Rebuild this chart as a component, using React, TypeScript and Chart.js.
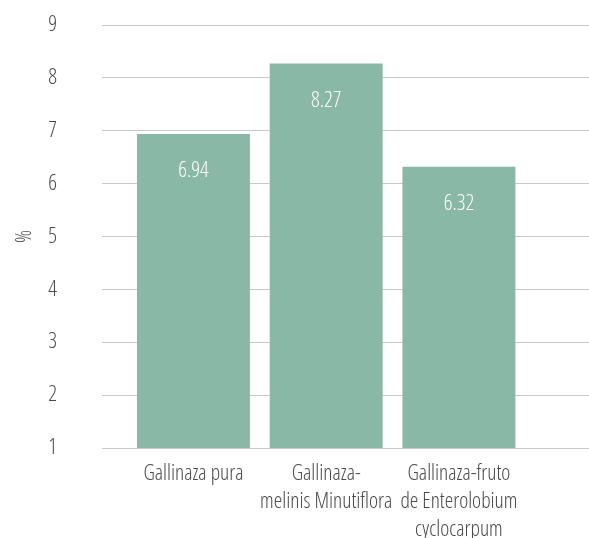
import React, { useEffect, useRef } from "react";
import { Chart, registerables } from "chart.js";

Chart.register(...registerables);

const categories: string[][] = [
  ["Gallinaza pura"],
  ["Gallinaza-", "melinis Minutiflora"],
  ["Gallinaza-fruto", "de Enterolobium", "cyclocarpum"],
];
const values: number[] = [6.94, 8.27, 6.32];
const valueLabels: string[] = ["6.94", "8.27", "6.32"];
const yTicks: number[] = [1, 2, 3, 4, 5, 6, 7, 8, 9];

const FAMILY = "'Open Sans', sans-serif";
const WEIGHT = "300 condensed";
const SIZE = 21.5;
const BAR = "rgb(137,184,167)";
const TEXT = "#4a4a4a";

const labelPlugin = {
  id: "valueLabels",
  afterDatasetsDraw(chart: any) {
    const ctx = chart.ctx;
    const meta = chart.getDatasetMeta(0);
    ctx.save();
    ctx.font = `${WEIGHT} ${SIZE}px ${FAMILY}`;
    ctx.fillStyle = "#ffffff";
    ctx.textAlign = "center";
    ctx.textBaseline = "middle";
    meta.data.forEach((bar: any, i: number) => {
      ctx.fillText(valueLabels[i], bar.x, bar.y + 37);
    });
    ctx.restore();
  },
};

export default function App() {
  const ref = useRef<HTMLCanvasElement>(null);
  useEffect(() => {
    document.body.style.margin = "0";
    const font = { family: FAMILY, size: SIZE, weight: WEIGHT as any };
    const chart = new Chart(ref.current!, {
      type: "bar",
      data: {
        datasets: [
          {
            data: values.map((v, i) => ({ x: i + 1, y: v })) as any,
            backgroundColor: BAR,
            borderWidth: 0,
            barPercentage: 1,
            categoryPercentage: 0.851,
          },
        ],
      },
      options: {
        animation: false,
        responsive: false,
        maintainAspectRatio: false,
        layout: { padding: { top: 25, right: 0, left: 0, bottom: 0 } },
        plugins: { legend: { display: false }, tooltip: { enabled: false } },
        scales: {
          x: {
            type: "linear",
            offset: false,
            min: 0.311,
            max: 3.98,
            grid: { display: false, drawTicks: false },
            border: { display: false },
            afterFit: (s: any) => {
              s.height = 90;
              s.paddingLeft = 0;
              s.paddingRight = 0;
            },
            afterBuildTicks: (s: any) => {
              s.ticks = categories.map((_, i) => ({ value: i + 1 }));
            },
            ticks: {
              autoSkip: false,
              maxRotation: 0,
              padding: 12,
              color: TEXT,
              font: { ...font, lineHeight: 1.3 },
              callback: (v: any) => categories[Number(v) - 1] ?? "",
            },
          },
          y: {
            min: 1,
            max: 9,
            afterFit: (s: any) => {
              s.width = 102;
              s.paddingTop = 12;
              s.paddingBottom = 12;
            },
            afterBuildTicks: (s: any) => {
              s.ticks = yTicks.map((v) => ({ value: v }));
            },
            grid: { color: "#c8c8c8", lineWidth: 1, drawTicks: false },
            border: { display: false },
            title: {
              display: true,
              text: "%",
              color: TEXT,
              font,
              padding: { top: 12, bottom: 0 },
            },
            ticks: {
              padding: 45,
              color: TEXT,
              font,
            },
          },
        },
      },
      plugins: [labelPlugin],
    });
    return () => chart.destroy();
  }, []);
  return <canvas ref={ref} width={589} height={538} style={{ display: "block" }} />;
}
